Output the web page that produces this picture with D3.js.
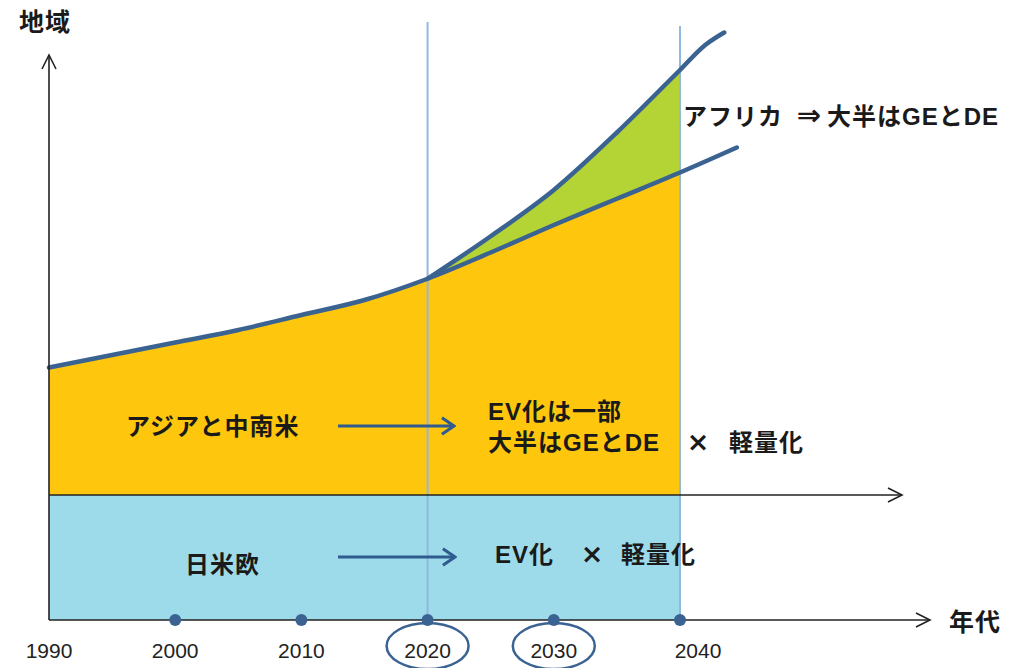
<!DOCTYPE html>
<html>
<head>
<meta charset="utf-8">
<script src="https://cdn.jsdelivr.net/npm/d3@7"></script>
<style>
  html, body { margin: 0; padding: 0; background: #fff; }
  svg { display: block; }
  .jp { font-family: "Liberation Sans", "Noto Sans CJK JP", sans-serif; font-weight: bold; fill: #1a1a1a; letter-spacing: 1px; }
  .sym { font-family: "DejaVu Sans", sans-serif; font-weight: bold; fill: #1a1a1a; }
  .yr { font-family: "Liberation Sans", Arial, sans-serif; fill: #222; }
</style>
</head>
<body>
<svg id="chart" width="1025" height="668"></svg>
<script>
// Years shown on the time axis
const tickYears = [1990, 2000, 2010, 2020, 2030, 2040];
const dotYears = [2000, 2010, 2020, 2030, 2040];
const circledYears = [2020, 2030];
const markerYears = [2020, 2040];

// Japan / US / Europe band (baseline scale)
const bandYears = [1990, 2040];
const bandValue = 100;

// Asia & Latin America: demand curve
const asiaYears  = [1990, 2000, 2005, 2010, 2015, 2020, 2025, 2030, 2035, 2040, 2044.5];
const asiaValues = [202, 222, 232, 244, 256, 273, 294, 316, 337, 358, 378];

// Including Africa: demand curve
const africaYears  = [2020, 2025, 2030, 2035, 2040, 2042, 2043.5];
const africaValues = [273, 307, 344, 390, 440, 460, 470];

const svg = d3.select("#chart");

const x = d3.scaleLinear().domain([1990, 2040]).range([49, 680]);
const y = d3.scaleLinear().domain([0, 100]).range([620, 495]);

const asia = asiaYears.map((t, i) => ({ t, v: asiaValues[i] }));
const africa = africaYears.map((t, i) => ({ t, v: africaValues[i] }));

const curve = d3.curveMonotoneX;
const lowerAt = d3.scaleLinear().domain(asiaYears).range(asiaValues);

// Blue band: Japan / US / Europe
svg.append("path")
  .attr("d", d3.area().x(d => x(d)).y0(y(0)).y1(y(bandValue))(bandYears))
  .attr("fill", "#9ddbea");

// Yellow area: Asia & Latin America (up to 2040)
const asiaClip = asia.filter(d => d.t <= 2040);
svg.append("path")
  .attr("d", d3.area().curve(curve).x(d => x(d.t)).y0(y(bandValue)).y1(d => y(d.v))(asiaClip))
  .attr("fill", "#fec70e");

// Green area: Africa, between the two curves (2020–2040)
const greenPts = africa.filter(d => d.t <= 2040).map(d => ({ t: d.t, hi: d.v, lo: lowerAt(d.t) }));
svg.append("path")
  .attr("d", d3.area().curve(curve).x(d => x(d.t)).y0(d => y(d.lo)).y1(d => y(d.hi))(greenPts))
  .attr("fill", "#b4d335");

// Vertical year markers
svg.selectAll("line.marker")
  .data(markerYears)
  .join("line")
  .attr("class", "marker")
  .attr("x1", d => x(d)).attr("x2", d => x(d))
  .attr("y1", (d, i) => i === 0 ? 22 : 26)
  .attr("y2", y(0))
  .attr("stroke", "#93b8de")
  .attr("stroke-width", 2);

// Demand curves
const line = d3.line().curve(curve).x(d => x(d.t)).y(d => y(d.v));
svg.append("path").attr("d", line(asia))
  .attr("fill", "none").attr("stroke", "#3b6392").attr("stroke-width", 4.5).attr("stroke-linecap", "round");
svg.append("path").attr("d", line(africa))
  .attr("fill", "none").attr("stroke", "#3b6392").attr("stroke-width", 4.5).attr("stroke-linecap", "round");

// Arrow markers
const defs = svg.append("defs");
defs.append("marker")
  .attr("id", "axisHead")
  .attr("viewBox", "0 0 20 20").attr("refX", 18).attr("refY", 10)
  .attr("markerWidth", 20).attr("markerHeight", 20).attr("markerUnits", "userSpaceOnUse")
  .attr("orient", "auto")
  .append("path").attr("d", "M4,3 L18,10 L4,17")
  .attr("fill", "none").attr("stroke", "#222").attr("stroke-width", 1.6);
defs.append("marker")
  .attr("id", "blueHead")
  .attr("viewBox", "0 0 20 20").attr("refX", 18).attr("refY", 10)
  .attr("markerWidth", 22).attr("markerHeight", 22).attr("markerUnits", "userSpaceOnUse")
  .attr("orient", "auto")
  .append("path").attr("d", "M7,2.5 L18,10 L7,17.5")
  .attr("fill", "none").attr("stroke", "#2f5b8f").attr("stroke-width", 2.8);

// Axes
svg.append("line")
  .attr("x1", x(1990)).attr("x2", x(1990)).attr("y1", y(0)).attr("y2", 55)
  .attr("stroke", "#222").attr("stroke-width", 1.6).attr("marker-end", "url(#axisHead)");
svg.append("line")
  .attr("x1", x(1990)).attr("x2", 930).attr("y1", y(0)).attr("y2", y(0))
  .attr("stroke", "#222").attr("stroke-width", 1.6).attr("marker-end", "url(#axisHead)");
svg.append("line")
  .attr("x1", x(1990)).attr("x2", 902).attr("y1", y(bandValue)).attr("y2", y(bandValue))
  .attr("stroke", "#222").attr("stroke-width", 1.6).attr("marker-end", "url(#axisHead)");

// Dots on the time axis
svg.selectAll("circle.dot")
  .data(dotYears)
  .join("circle")
  .attr("class", "dot")
  .attr("cx", d => x(d)).attr("cy", y(0)).attr("r", 6)
  .attr("fill", "#3b6392");

// Year labels
svg.selectAll("text.yr")
  .data(tickYears)
  .join("text")
  .attr("class", "yr")
  .attr("x", d => d === 2040 ? x(d) + 18 : x(d))
  .attr("y", 658)
  .attr("text-anchor", "middle")
  .attr("font-size", 21)
  .text(d => d);

// Highlight rings around key years
svg.selectAll("ellipse.ring")
  .data(circledYears)
  .join("ellipse")
  .attr("class", "ring")
  .attr("cx", d => x(d)).attr("cy", 646).attr("rx", 41).attr("ry", 23)
  .attr("fill", "none").attr("stroke", "#3b6392").attr("stroke-width", 2.5);

// Text helpers
function label(tx, ty, size, str) {
  return svg.append("text").attr("class", "jp")
    .attr("x", tx).attr("y", ty).attr("font-size", size).text(str);
}
function symbol(cx, ty, size, str) {
  return svg.append("text").attr("class", "sym")
    .attr("x", cx).attr("y", ty).attr("font-size", size)
    .attr("text-anchor", "middle").text(str);
}

// Axis titles
label(19, 31, 25, "地域");
label(949, 631, 25, "年代");

// Region labels
label(683, 125, 24, "アフリカ");
symbol(809, 125, 29, "⇒");
label(827, 125, 24, "大半はGEとDE");

label(126, 435, 24, "アジアと中南米");

label(488, 420, 24, "EV化は一部");
label(488, 451, 24, "大半はGEとDE");
symbol(698, 451, 27, "×");
label(729, 451, 24, "軽量化");

label(185, 573, 24, "日米欧");
label(495, 563, 24, "EV化");
symbol(592, 563, 27, "×");
label(621, 563, 24, "軽量化");

// Transition arrows
svg.append("line").attr("x1", 338).attr("x2", 454).attr("y1", 426).attr("y2", 426)
  .attr("stroke", "#2f5b8f").attr("stroke-width", 3).attr("marker-end", "url(#blueHead)");
svg.append("line").attr("x1", 338).attr("x2", 455).attr("y1", 557).attr("y2", 557)
  .attr("stroke", "#2f5b8f").attr("stroke-width", 3).attr("marker-end", "url(#blueHead)");
</script>
</body>
</html>
